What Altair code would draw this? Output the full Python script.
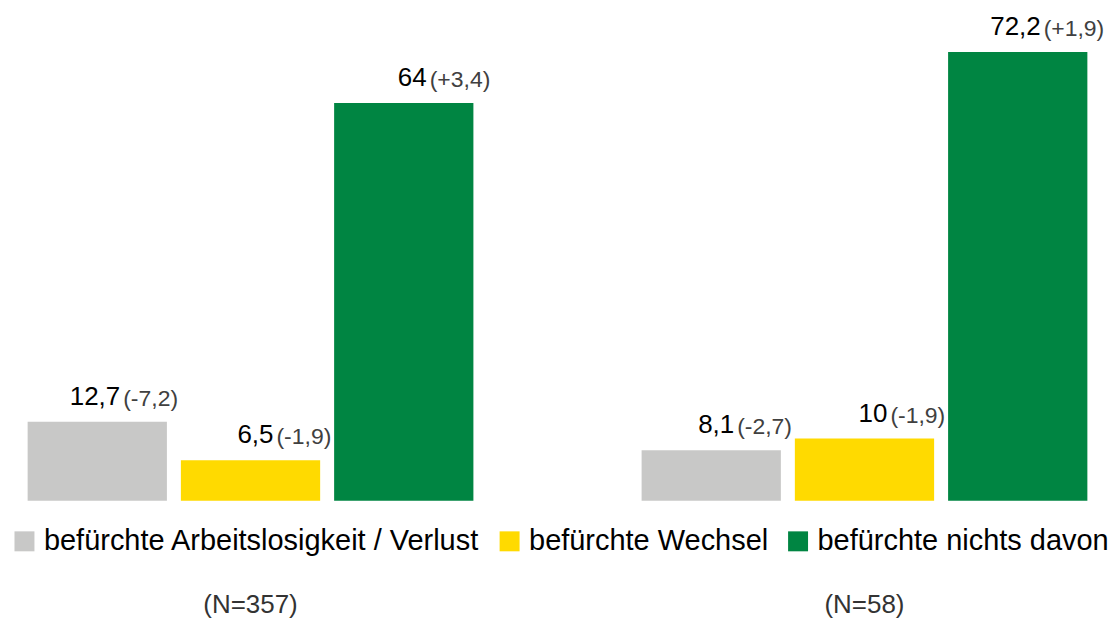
import altair as alt
import pandas as pd

groups = ["(N=357)", "(N=58)"]
categories = [
    "befürchte Arbeitslosigkeit / Verlust",
    "befürchte Wechsel",
    "befürchte nichts davon",
]
values_357 = [12.7, 6.5, 64.0]
values_58 = [8.1, 10.0, 72.2]
changes_357 = [-7.2, -1.9, 3.4]
changes_58 = [-2.7, -1.9, 1.9]
colors = ["#C8C8C7", "#FFDA00", "#008542"]


def fmt_num(v):
    s = f"{v:.1f}"
    if s.endswith(".0"):
        s = s[:-2]
    return s.replace(".", ",")


def fmt_change(v):
    sign = "+" if v > 0 else "-"
    return "(" + sign + f"{abs(v):.1f}".replace(".", ",") + ")"


rows = []
for g, vals, chs in [(groups[0], values_357, changes_357), (groups[1], values_58, changes_58)]:
    for c, v, ch in zip(categories, vals, chs):
        rows.append({"group": g, "category": c, "value": v,
                     "label": fmt_num(v), "change": fmt_change(ch)})
df = pd.DataFrame(rows)

FONT = "Liberation Sans"

x = alt.X("group:N", sort=groups, title=None,
          scale=alt.Scale(paddingInner=0.2512, paddingOuter=0.0206),
          axis=alt.Axis(domain=False, ticks=False, labelAngle=0, labelFont=FONT,
                        labelFontSize=26, labelColor="#333333", labelPadding=91))
xo = alt.XOffset("category:N", sort=categories,
                 scale=alt.Scale(paddingInner=0.0912, paddingOuter=0.0456))
y = alt.Y("value:Q", title=None,
          scale=alt.Scale(domain=[0, 79.2], nice=False, zero=True),
          axis=None)

base = alt.Chart(df)

bars = base.mark_bar().encode(
    x=x, xOffset=xo, y=y,
    color=alt.Color("category:N", sort=categories,
                    scale=alt.Scale(domain=categories, range=colors),
                    legend=alt.Legend(title=None, orient="none", legendX=2, legendY=519,
                                      direction="horizontal", symbolType="square",
                                      symbolSize=400, symbolStrokeWidth=0,
                                      symbolOpacity=1, labelFont=FONT,
                                      labelFontSize=29, labelColor="#000000",
                                      labelOffset=5, columnPadding=15, padding=0,
                                      labelLimit=1000)),
)

val_text = base.mark_text(align="right", baseline="alphabetic", dx=23, dy=-17,
                          font=FONT, fontSize=26, color="#000000").encode(
    x=x, xOffset=xo, y=y, text="label:N")

chg_text = base.mark_text(align="left", baseline="alphabetic", dx=26, dy=-16,
                          font=FONT, fontSize=23, color="#404040").encode(
    x=x, xOffset=xo, y=y, text="change:N")

chart = alt.layer(bars, val_text, chg_text).properties(
    width=1101, height=493,
    autosize=alt.AutoSizeParams(type="pad"),
    padding=0,
    background="#ffffff",
).configure_view(stroke=None)

chart.save("out.html", embed_options={"renderer": "svg", "actions": False})
